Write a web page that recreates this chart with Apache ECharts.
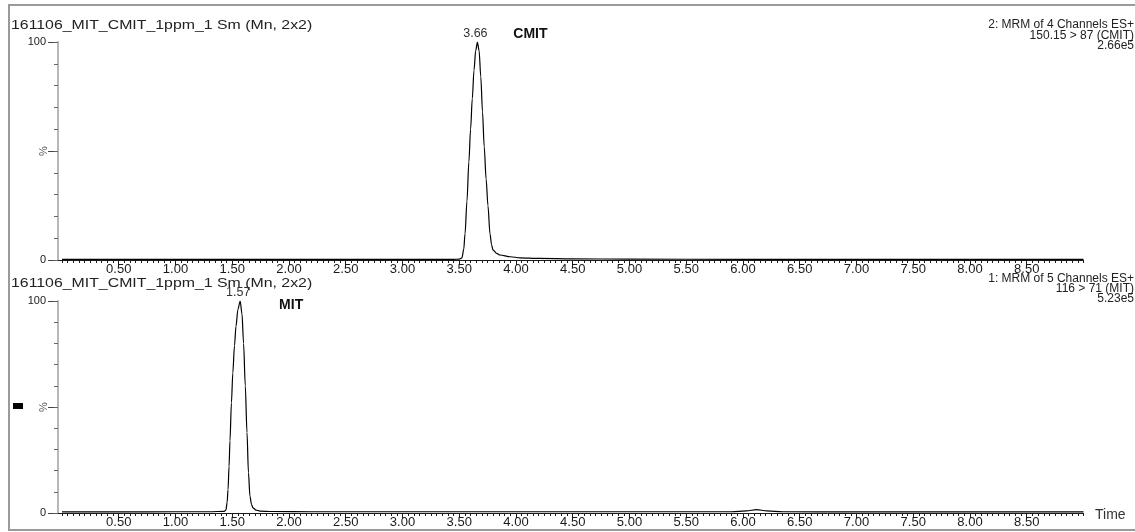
<!DOCTYPE html>
<html>
<head>
<meta charset="utf-8">
<script src="https://cdn.jsdelivr.net/npm/echarts@6/dist/echarts.min.js"></script>
<style>
  html, body { margin: 0; padding: 0; background: #fff; }
  #c { width: 1135px; height: 532px; }
</style>
</head>
<body>
<div id="c"></div>
<script>
// Run header and channel descriptions
const runTitle = '161106_MIT_CMIT_1ppm_1 Sm (Mn, 2x2)';
const cmitInfo = ['2: MRM of 4 Channels ES+', '150.15 > 87 (CMIT)', '2.66e5'];
const mitInfo = ['1: MRM of 5 Channels ES+', '116 > 71 (MIT)', '5.23e5'];

// Retention-time tick labels (min)
const timeLabels = ['0.50', '1.00', '1.50', '2.00', '2.50', '3.00', '3.50', '4.00', '4.50',
                    '5.00', '5.50', '6.00', '6.50', '7.00', '7.50', '8.00', '8.50'];

// CMIT trace (150.15 > 87): time (min) and relative intensity (%)
const cmitTime = [0.00, 1.00, 2.00, 3.00, 3.45, 3.50, 3.524, 3.540, 3.551, 3.568, 3.585, 3.600, 3.615,
                  3.630, 3.645, 3.66, 3.675, 3.690, 3.705, 3.720, 3.737, 3.753, 3.771, 3.785, 3.797,
                  3.830, 3.859, 3.950, 4.035, 4.20, 4.50, 5.00, 6.00, 7.00, 8.00, 9.00];
const cmitPct  = [0.3, 0.3, 0.3, 0.3, 0.3, 0.4, 1.0, 5, 12, 27, 45, 60, 74,
                  87, 96, 100, 96, 84, 68, 52, 37, 25, 12, 7, 4.6,
                  3.0, 2.3, 1.5, 1.0, 0.7, 0.5, 0.4, 0.3, 0.3, 0.3, 0.3];
const cmitApex = 3.66;

// MIT trace (116 > 71): time (min) and relative intensity (%)
const mitTime = [0.00, 0.50, 1.00, 1.30, 1.43, 1.445, 1.455, 1.463, 1.472, 1.480, 1.493, 1.505, 1.520,
                 1.533, 1.550, 1.57, 1.586, 1.600, 1.615, 1.630, 1.643, 1.656, 1.670, 1.683, 1.710,
                 1.744, 1.85, 2.20, 3.00, 4.00, 5.00, 5.90, 6.03, 6.12, 6.21, 6.35, 7.00, 8.00, 9.00];
const mitPct  = [0.5, 0.5, 0.6, 0.6, 0.8, 1.5, 5, 11, 22, 34, 52, 66, 79,
                 88, 96, 100, 94, 80, 60, 38, 19, 8, 4, 2.4, 1.4,
                 0.9, 0.7, 0.6, 0.6, 0.6, 0.6, 0.6, 1.0, 1.6, 1.0, 0.6, 0.5, 0.5, 0.5];
const mitApex = 1.57;

const FONT = '"Liberation Sans", Arial, sans-serif';
const INK = '#1a1a1a';
const X_MIN = -0.035, X_MAX = 9.0;

const majorTicks = timeLabels.map(Number);
const minorTicks = [];
for (let k = 0; k <= 180; k++) minorTicks.push(+(k * 0.05).toFixed(2));

const zip = (t, v) => t.map((x, i) => [x, v[i]]);
const apexPct = (t, v, a) => v[t.indexOf(a)];

const grids = [
  { left: 58, right: 51.5, top: 42, height: 218 },
  { left: 58, right: 51.5, top: 301, height: 212 }
];

const xAxes = [];
const yAxes = [];
grids.forEach((g, gi) => {
  // labelled time axis with ticks every 0.5 min
  xAxes.push({
    type: 'value', gridIndex: gi, position: 'bottom', min: X_MIN, max: X_MAX,
    axisLine: { show: true, onZero: false, lineStyle: { color: INK, width: 1 } },
    axisTick: { show: true, customValues: majorTicks, length: 5, lineStyle: { color: INK, width: 1 } },
    axisLabel: { show: true, customValues: majorTicks, formatter: v => v.toFixed(2),
                 fontFamily: FONT, fontSize: 13, color: INK, margin: 3 },
    splitLine: { show: false }
  });
  // fine ticks every 0.05 min
  xAxes.push({
    type: 'value', gridIndex: gi, position: 'bottom', min: X_MIN, max: X_MAX,
    axisLine: { show: false, onZero: false },
    axisTick: { show: true, customValues: minorTicks, length: 3, lineStyle: { color: INK, width: 1 } },
    axisLabel: { show: false },
    splitLine: { show: false }
  });
  // intensity axis: 0 / % / 100
  yAxes.push({
    type: 'value', gridIndex: gi, position: 'left', min: 0, max: 100, interval: 50,
    axisLine: { show: true, onZero: false, lineStyle: { color: '#b8b8b8', width: 2 } },
    axisTick: { show: true, length: 10, lineStyle: { color: '#444', width: 1 } },
    axisLabel: { formatter: v => (v === 50 ? '' : String(v)), fontFamily: FONT, fontSize: 11,
                 color: INK, margin: 12 },
    name: '%', nameLocation: 'middle', nameRotate: 90, nameGap: 9, nameMoveOverlap: false,
    nameTextStyle: { fontFamily: FONT, fontSize: 11, color: '#555' },
    splitLine: { show: false }
  });
  yAxes.push({
    type: 'value', gridIndex: gi, position: 'left', min: 0, max: 100, interval: 10,
    axisLine: { show: false, onZero: false },
    axisTick: { show: true, length: 4, lineStyle: { color: '#666', width: 1 } },
    axisLabel: { show: false },
    splitLine: { show: false }
  });
});

function trace(name, t, v, apex, gi, nameOffset) {
  const top = apexPct(t, v, apex);
  return {
    name, type: 'line', xAxisIndex: gi * 2, yAxisIndex: gi * 2,
    data: zip(t, v), showSymbol: false, smooth: 0.3, smoothMonotone: 'x',
    lineStyle: { color: '#000', width: 1.2 },
    markPoint: {
      symbol: 'circle', symbolSize: 1, itemStyle: { color: 'transparent' },
      data: [
        { coord: [apex, top], label: { show: true, position: 'inside', offset: [-2, -8],
            formatter: apex.toFixed(2), fontFamily: FONT, fontSize: 12.5, color: '#333' } },
        { coord: [apex, top], label: { show: true, position: 'inside', offset: nameOffset,
            formatter: name, fontFamily: FONT, fontSize: 14, fontWeight: 'bold', color: '#111' } }
      ]
    }
  };
}

function infoLines(lines, yStart, step) {
  return lines.map((s, i) => ({
    type: 'text', x: 1134, y: yStart + i * step,
    style: { text: s, font: '12px ' + FONT, fill: '#222', textAlign: 'right', textVerticalAlign: 'middle' }
  }));
}

function header(y) {
  return {
    type: 'text', x: 11, y: y, scaleX: 1.22,
    style: { text: runTitle, font: '13px ' + FONT, fill: '#222', textAlign: 'left', textVerticalAlign: 'middle' }
  };
}

const option = {
  animation: false,
  backgroundColor: '#fff',
  grid: grids,
  xAxis: xAxes,
  yAxis: yAxes,
  series: [
    trace('CMIT', cmitTime, cmitPct, cmitApex, 0, [53, -8]),
    trace('MIT', mitTime, mitPct, mitApex, 1, [51, 4])
  ],
  graphic: [
    { type: 'rect', shape: { x: 9, y: 5, width: 1140, height: 525 },
      style: { fill: 'none', stroke: '#9a9a9a', lineWidth: 2 }, silent: true },
    { type: 'rect', shape: { x: 13, y: 403, width: 10, height: 6 }, style: { fill: '#000' } },
    header(25),
    header(283),
    ...infoLines(cmitInfo, 25, 10.5),
    ...infoLines(mitInfo, 279, 10),
    { type: 'text', x: 1095, y: 515,
      style: { text: 'Time', font: '14px ' + FONT, fill: '#333', textAlign: 'left', textVerticalAlign: 'middle' } }
  ]
};

const chart = echarts.init(document.getElementById('c'));
chart.setOption(option);
</script>
</body>
</html>
